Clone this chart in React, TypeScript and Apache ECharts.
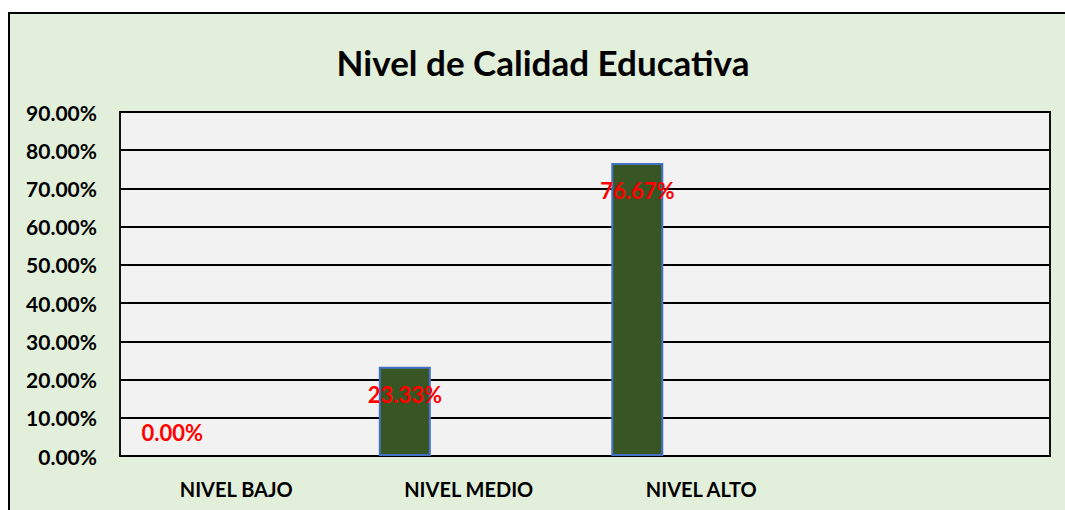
import React, { useEffect, useRef } from "react";
import * as echarts from "echarts";

const categories = ["NIVEL BAJO", "NIVEL MEDIO", "NIVEL ALTO", ""];
const percentValues = [0, 23.33, 76.67, null];
const emptySeries = [null, null, null, null];
const yTicks = { min: 0, max: 90, interval: 10 };
const titleText = "Nivel de Calidad Educativa";

const FONT = "Lato, 'Open Sans', sans-serif";

export default function App() {
  const ref = useRef<HTMLDivElement>(null);
  useEffect(() => {
    if (!ref.current) return;
    const chart = echarts.init(ref.current, undefined, { renderer: "svg" });
    chart.setOption({
      animation: false,
      backgroundColor: "#E2EFDA",
      textStyle: { fontFamily: FONT },
      title: {
        text: titleText,
        left: 528,
        top: 25,
        textAlign: "center",
        textStyle: { fontFamily: FONT, fontWeight: "bold", fontSize: 35, color: "#000" },
      },
      grid: {
        left: 110,
        top: 98,
        right: 15,
        bottom: 54,
        show: true,
        backgroundColor: "#F2F2F2",
        borderColor: "#111",
        borderWidth: 2,
      },
      xAxis: {
        type: "category",
        data: categories,
        axisTick: { show: false },
        axisLine: { lineStyle: { color: "#000", width: 2 } },
        axisLabel: {
          color: "#000",
          fontWeight: "bold",
          fontSize: 20,
          fontFamily: FONT,
          margin: 23,
        },
      },
      yAxis: {
        type: "value",
        min: yTicks.min,
        max: yTicks.max,
        interval: yTicks.interval,
        axisLine: { show: false },
        axisTick: { show: false },
        splitLine: { lineStyle: { color: "#000", width: 2 } },
        axisLabel: {
          color: "#000",
          fontWeight: "bold",
          fontSize: 21,
          fontFamily: FONT,
          margin: 23,
          formatter: (v: number) => v.toFixed(2) + "%",
        },
      },
      series: [
        {
          type: "bar",
          barWidth: 52,
          barGap: "146%",
          itemStyle: { color: "#375623", borderColor: "#4472C4", borderWidth: 2 },
          label: {
            show: true,
            position: "insideTop",
            distance: 17,
            color: "#FF0000",
            fontWeight: "bold",
            fontSize: 22,
            fontFamily: FONT,
            formatter: (p: any) => (p.value == null ? "" : Number(p.value).toFixed(2) + "%"),
          },
          data: percentValues.map((v) =>
            v === 0
              ? {
                  value: v,
                  itemStyle: { borderWidth: 0 },
                  label: { position: "top", distance: 13 },
                }
              : v
          ),
        },
        {
          type: "bar",
          barWidth: 52,
          data: emptySeries,
        },
      ],
    });
    return () => chart.dispose();
  }, []);
  return (
    <div
      style={{
        position: "fixed",
        left: 8,
        top: 12,
        width: 1057,
        height: 498,
        boxSizing: "border-box",
        borderLeft: "2px solid #000",
        borderTop: "2px solid #000",
        background: "#E2EFDA",
      }}
    >
      <div ref={ref} style={{ width: 1055, height: 496 }} />
    </div>
  );
}
